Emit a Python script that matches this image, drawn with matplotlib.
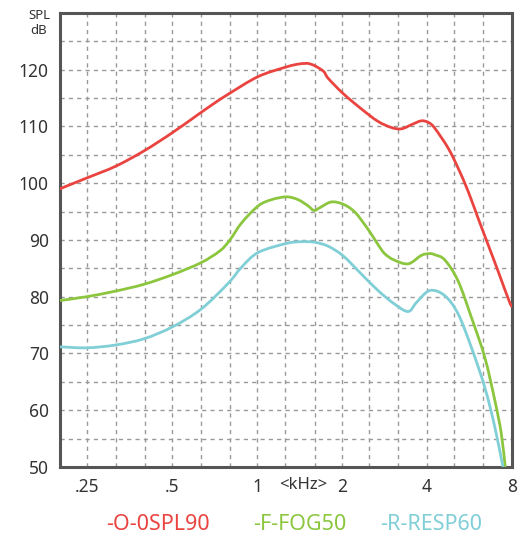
import numpy as np
import matplotlib
matplotlib.use("Agg")
import matplotlib.pyplot as plt
from matplotlib.path import Path
from matplotlib.patches import PathPatch
from matplotlib.ticker import FixedLocator, NullFormatter

plt.rcParams['font.family'] = ['Noto Sans', 'DejaVu Sans']

# frequency (kHz) / level (dB)
red_f = [0.197, 0.248, 0.315, 0.397, 0.5, 0.617, 0.70, 0.79, 1.008, 1.27, 1.40,
         1.475, 1.52, 1.60, 1.72, 1.784, 2.017, 2.34, 2.68, 3.0, 3.25,
         3.55, 3.82, 4.05, 4.26, 4.75, 5.15, 5.59, 6.06, 6.58, 7.13, 7.85, 8.0]
red_db = [98.9, 100.9, 103.0, 105.7, 108.9, 112.1, 114.0, 115.7, 118.8, 120.5, 121.0,
          121.1, 121.1, 120.7, 119.7, 118.5, 115.8, 113.1, 110.9, 109.8, 109.6,
          110.4, 111.0, 110.7, 109.7, 106.2, 102.7, 98.6, 93.9, 89.2, 84.6, 79.0, 78.5]

green_f = [0.197, 0.248, 0.315, 0.397, 0.501, 0.632, 0.738, 0.80, 0.88, 1.008, 1.123,
           1.27, 1.397, 1.516, 1.59, 1.668, 1.83, 2.017, 2.22, 2.47, 2.68, 2.83,
           3.05, 3.43, 3.82, 4.09, 4.26, 4.62, 5.15, 5.74, 6.4, 6.95, 7.33, 7.57]
green_db = [79.3, 80.0, 81.0, 82.2, 83.9, 86.0, 88.1, 90.0, 93.0, 96.0, 97.1,
            97.6, 97.1, 96.0, 95.2, 95.7, 96.7, 96.3, 94.9, 91.9, 89.2, 87.6,
            86.5, 85.8, 87.3, 87.6, 87.4, 86.5, 82.8, 76.4, 69.4, 61.8, 55.9, 50.0]

cyan_f = [0.197, 0.248, 0.315, 0.397, 0.501, 0.632, 0.79, 0.88, 1.008, 1.27, 1.435,
          1.60, 1.784, 2.017, 2.34, 2.68, 3.07, 3.43, 3.67, 4.09, 4.62, 5.15,
          5.74, 6.4, 6.95, 7.43]
cyan_db = [71.2, 71.0, 71.5, 72.6, 74.7, 77.8, 82.4, 85.2, 87.8, 89.4, 89.7,
           89.6, 88.9, 87.2, 84.0, 81.1, 78.7, 77.4, 79.0, 81.1, 80.2, 77.0,
           71.1, 64.1, 57.1, 50.0]

x_ticks = [0.25, 0.5, 1, 2, 4, 8]
x_labels = [".25", ".5", "1", "2", "4", "8"]
y_ticks = [50, 60, 70, 80, 90, 100, 110, 120]
third_oct = [0.25, 0.315, 0.4, 0.5, 0.63, 0.8, 1, 1.25, 1.6, 2, 2.5, 3.15, 4, 5, 6.3]

names = ["-O-0SPL90", "-F-FOG50", "-R-RESP60"]
colors = ["#ea4440", "#8cc63f", "#80cfd7"]


def smooth_path(fs, ds):
    # catmull-rom through the read points, drawn as bezier segments (log-f space)
    lx = np.log10(fs)
    y = np.asarray(ds, float)
    pts = np.column_stack([lx, y])
    verts = [pts[0]]
    codes = [Path.MOVETO]
    n = len(pts)
    for i in range(n - 1):
        p0 = pts[i - 1] if i > 0 else pts[i]
        p1, p2 = pts[i], pts[i + 1]
        p3 = pts[i + 2] if i + 2 < n else pts[i + 1]
        c1 = p1 + (p2 - p0) / 6.0
        c2 = p2 - (p3 - p1) / 6.0
        verts += [c1, c2, p2]
        codes += [Path.CURVE4] * 3
    verts = np.array(verts)
    verts[:, 0] = 10 ** verts[:, 0]
    return Path(verts, codes)


fig = plt.figure(figsize=(5.32, 5.38), dpi=100)
ax = fig.add_axes([60/532, 1-467/538, 452/532, 454/538])

ax.set_xscale('log')
ax.set_xlim(0.2, 8)
ax.set_ylim(50, 130)

for v in third_oct:
    ax.axvline(v, color="#999999", lw=1, ls=(0, (3, 3)), zorder=1)
for v in range(55, 130, 5):
    ax.axhline(v, color="#999999", lw=1, ls=(0, (3, 3)), zorder=1)

for fs, ds, c in [(red_f, red_db, colors[0]), (green_f, green_db, colors[1]),
                  (cyan_f, cyan_db, colors[2])]:
    ax.add_patch(PathPatch(smooth_path(fs, ds), fill=False, edgecolor=c, lw=2,
                           zorder=3, clip_on=True))

ax.xaxis.set_major_locator(FixedLocator(x_ticks))
ax.xaxis.set_minor_locator(FixedLocator([]))
ax.xaxis.set_minor_formatter(NullFormatter())
ax.set_xticklabels(x_labels)
ax.set_yticks(y_ticks)
ax.tick_params(length=0, labelsize=12.5, labelcolor="#333333", pad=8)

for s in ax.spines.values():
    s.set_color("#555555")
    s.set_linewidth(2.2)

fig.text(303/532, 1-485/538, "<kHz>", ha='center', va='center', fontsize=12, color="#333333")
fig.text(39/532, 1-23/538, "SPL\ndB", ha='center', va='center', fontsize=9.5,
         color="#333333", linespacing=1.2)

for name, c, xc in zip(names, colors, [158, 300, 431]):
    fig.text(xc/532, 1-524/538, name, ha='center', va='center', fontsize=15.5, color=c)

fig.savefig("out.png", dpi=100)
